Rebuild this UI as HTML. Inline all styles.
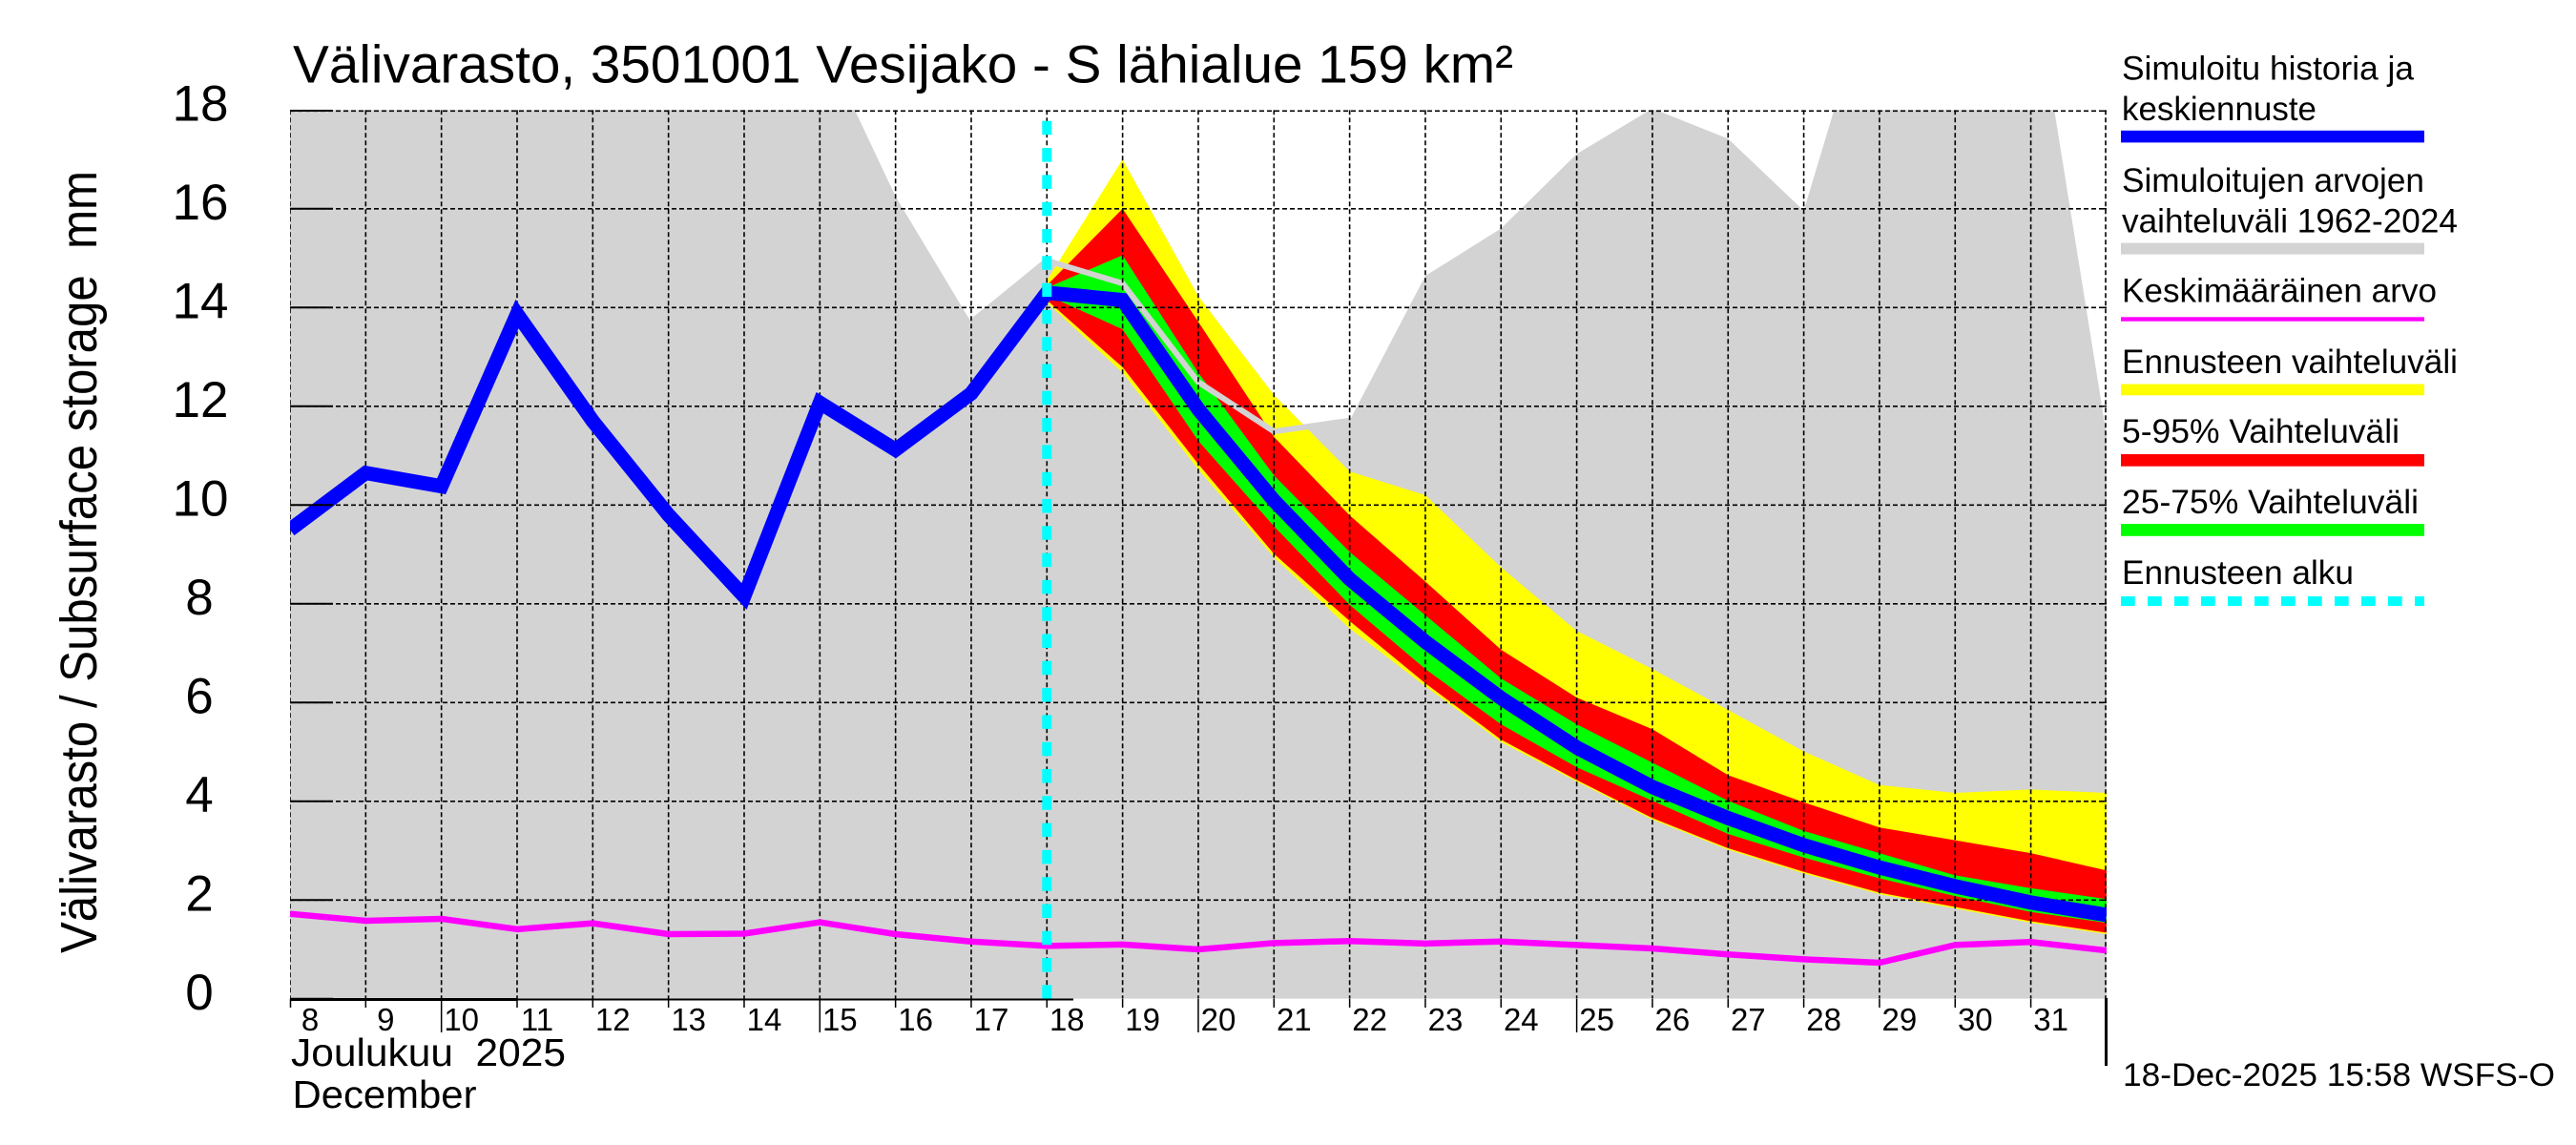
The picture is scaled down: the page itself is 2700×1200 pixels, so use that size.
<!DOCTYPE html>
<html>
<head>
<meta charset="utf-8">
<style>
html,body{margin:0;padding:0;background:#fff;}
svg{display:block;}
text{font-family:"Liberation Sans",Arial,sans-serif;fill:#000;}
</style>
</head>
<body>
<svg width="2700" height="1200" viewBox="0 0 2700 1200" xmlns="http://www.w3.org/2000/svg">
<rect x="0" y="0" width="2700" height="1200" fill="#fff"/>
<defs>
<clipPath id="pc"><rect x="304" y="115.3" width="1904" height="931.5"/></clipPath>
</defs>

<g clip-path="url(#pc)">
<g transform="matrix(79.33,0,0,-51.75,-330.64,1046.8)">
<polygon fill="#d3d3d3" points="8,0 8,20 15,19.5 16,16.25 17,13.7 18,14.95 19,14.49 20,12.49 21,11.49 22,11.71 23,14.64 24,15.6 25,17.11 26,18.03 27,17.42 28,15.96 29,21.06 30,22 31,20.96 32,11.42 32,0"/>
<polygon fill="#ffff00" points="18,14.55 19,17.0 20,14.23 21,12.23 22,10.68 23,10.2 24,8.74 25,7.45 26,6.68 27,5.85 28,5.01 29,4.33 30,4.17 31,4.24 32,4.17 32,1.31 31,1.54 30,1.83 29,2.12 28,2.54 27,3.02 26,3.63 25,4.4 24,5.2 23,6.33 22,7.5 21,8.94 20,10.72 19,12.68 18,14.1"/>
<polygon fill="#ff0000" points="18,14.45 19,16.0 20,13.71 21,11.38 22,9.79 23,8.45 24,7.07 25,6.1 26,5.46 27,4.53 28,3.98 29,3.47 30,3.21 31,2.95 32,2.6 32,1.34 31,1.57 30,1.86 29,2.15 28,2.57 27,3.05 26,3.66 25,4.43 24,5.25 23,6.39 22,7.65 21,9.01 20,10.83 19,12.79 18,14.15"/>
<polygon fill="#00ff00" points="18,14.4 19,15.06 20,12.68 21,10.6 22,9.05 23,7.77 24,6.49 25,5.56 26,4.78 27,4.01 28,3.4 29,2.95 30,2.5 31,2.24 32,2.02 32,1.54 31,1.76 30,2.08 29,2.44 28,2.86 27,3.34 26,4.01 25,4.69 24,5.56 23,6.68 22,7.98 21,9.57 20,11.3 19,13.56 18,14.25"/>
<polyline fill="none" stroke="#d3d3d3" stroke-width="6" vector-effect="non-scaling-stroke" points="17,13.7 18,14.95 19,14.49 20,12.49 21,11.49 22,11.71"/>
</g>

<path fill="none" stroke="#000" stroke-width="1.6" stroke-dasharray="5 3" d="M304 115.3V1046.8M383.33 115.3V1046.8M462.66 115.3V1046.8M541.99 115.3V1046.8M621.32 115.3V1046.8M700.65 115.3V1046.8M779.98 115.3V1046.8M859.31 115.3V1046.8M938.64 115.3V1046.8M1017.97 115.3V1046.8M1097.3 115.3V1046.8M1176.63 115.3V1046.8M1255.96 115.3V1046.8M1335.29 115.3V1046.8M1414.62 115.3V1046.8M1493.95 115.3V1046.8M1573.28 115.3V1046.8M1652.61 115.3V1046.8M1731.94 115.3V1046.8M1811.27 115.3V1046.8M1890.6 115.3V1046.8M1969.93 115.3V1046.8M2049.26 115.3V1046.8M2128.59 115.3V1046.8M2207 115.3V1046.8"/>
<path fill="none" stroke="#000" stroke-width="1.6" stroke-dasharray="5 3" d="M304 943.3H2208M304 839.8H2208M304 736.3H2208M304 632.8H2208M304 529.3H2208M304 425.8H2208M304 322.3H2208M304 218.8H2208M304 116.3H2208"/>

<g transform="matrix(79.33,0,0,-51.75,-330.64,1046.8)">
<polyline fill="none" stroke="#ff00ff" stroke-width="6.5" vector-effect="non-scaling-stroke" stroke-linejoin="round" points="8,1.72 9,1.58 10,1.62 11,1.41 12,1.53 13,1.31 14,1.32 15,1.55 16,1.31 17,1.16 18,1.07 19,1.1 20,1.0 21,1.13 22,1.17 23,1.12 24,1.16 25,1.09 26,1.02 27,0.9 28,0.8 29,0.73 30,1.09 31,1.15 32,0.98"/>
<polyline fill="none" stroke="#0000ff" stroke-width="15" vector-effect="non-scaling-stroke" stroke-linejoin="miter" stroke-miterlimit="10" points="8,9.5 9,10.65 10,10.38 11,13.87 12,11.7 13,9.8 14,8.15 15,12.07 16,11.12 17,12.26 18,14.3 19,14.15 20,11.94 21,10.09 22,8.5 23,7.23 24,6.09 25,5.09 26,4.29 27,3.66 28,3.11 29,2.66 30,2.28 31,1.95 32,1.7"/>
</g>

<line x1="1097.3" y1="126.8" x2="1097.3" y2="1046.8" stroke="#00ffff" stroke-width="10" stroke-dasharray="14.5 13.8"/>
</g>

<path fill="none" stroke="#000" stroke-width="2" d="M304 1046.8H349M304 943.3H349M304 839.8H349M304 736.3H349M304 632.8H349M304 529.3H349M304 425.8H349M304 322.3H349M304 218.8H349M304 116H349"/>
<path fill="none" stroke="#000" stroke-width="1.5" d="M2200 943.3H2208M2200 839.8H2208M2200 736.3H2208M2200 632.8H2208M2200 529.3H2208M2200 425.8H2208M2200 322.3H2208M2200 218.8H2208M2200 116.3H2208"/>
<line x1="304" y1="1047.5" x2="1125" y2="1047.5" stroke="#000" stroke-width="2"/>
<line x1="304" y1="1047.5" x2="542" y2="1047.5" stroke="#000" stroke-width="3"/>
<path fill="none" stroke="#000" stroke-width="1.5" d="M304.5 1047V1056M383.33 1047V1056M462.66 1047V1082M541.99 1047V1056M621.32 1047V1056M700.65 1047V1056M779.98 1047V1056M859.31 1047V1082M938.64 1047V1056M1017.97 1047V1056M1097.3 1047V1056M1176.63 1047V1056M1255.96 1047V1082M1335.29 1047V1056M1414.62 1047V1056M1493.95 1047V1056M1573.28 1047V1056M1652.61 1047V1082M1731.94 1047V1056M1811.27 1047V1056M1890.6 1047V1056M1969.93 1047V1056M2049.26 1047V1056M2128.59 1047V1056"/>
<line x1="2207.5" y1="1046" x2="2207.5" y2="1117" stroke="#000" stroke-width="3"/>

<g font-size="53" text-anchor="middle">
<text x="209" y="1057.8">0</text>
<text x="209" y="954.3">2</text>
<text x="209" y="850.8">4</text>
<text x="209" y="747.3">6</text>
<text x="209" y="643.8">8</text>
<text x="210" y="540.3">10</text>
<text x="210" y="436.8">12</text>
<text x="210" y="333.3">14</text>
<text x="210" y="229.8">16</text>
<text x="210" y="126.3">18</text>
</g>

<g font-size="33" text-anchor="middle">
<text x="325" y="1080">8</text>
<text x="404.3" y="1080">9</text>
<text x="483.7" y="1080">10</text>
<text x="563" y="1080">11</text>
<text x="642.3" y="1080">12</text>
<text x="721.7" y="1080">13</text>
<text x="801" y="1080">14</text>
<text x="880.3" y="1080">15</text>
<text x="959.6" y="1080">16</text>
<text x="1039" y="1080">17</text>
<text x="1118.3" y="1080">18</text>
<text x="1197.6" y="1080">19</text>
<text x="1277" y="1080">20</text>
<text x="1356.3" y="1080">21</text>
<text x="1435.6" y="1080">22</text>
<text x="1515" y="1080">23</text>
<text x="1594.3" y="1080">24</text>
<text x="1673.6" y="1080">25</text>
<text x="1752.9" y="1080">26</text>
<text x="1832.3" y="1080">27</text>
<text x="1911.6" y="1080">28</text>
<text x="1990.9" y="1080">29</text>
<text x="2070.3" y="1080">30</text>
<text x="2149.6" y="1080">31</text>
</g>

<text x="305" y="1117" font-size="41" textLength="288" lengthAdjust="spacingAndGlyphs" xml:space="preserve">Joulukuu  2025</text>
<text x="306.5" y="1161" font-size="41" textLength="193" lengthAdjust="spacingAndGlyphs">December</text>

<text x="307" y="86.5" font-size="56" textLength="1279" lengthAdjust="spacingAndGlyphs">Välivarasto, 3501001 Vesijako - S lähialue 159 km²</text>

<text transform="translate(101,589) rotate(-90)" x="0" y="0" font-size="54" text-anchor="middle" textLength="820" lengthAdjust="spacingAndGlyphs" xml:space="preserve">Välivarasto / Subsurface storage  mm</text>

<g font-size="35">
<text x="2224" y="83.4" textLength="306" lengthAdjust="spacingAndGlyphs">Simuloitu historia ja</text>
<text x="2224" y="126" textLength="204" lengthAdjust="spacingAndGlyphs">keskiennuste</text>
<rect x="2223" y="136.8" width="318" height="12.6" fill="#0000ff"/>
<text x="2224" y="200.8" textLength="317" lengthAdjust="spacingAndGlyphs">Simuloitujen arvojen</text>
<text x="2224" y="243.5" textLength="352" lengthAdjust="spacingAndGlyphs">vaihteluväli 1962-2024</text>
<rect x="2223" y="254.6" width="318" height="12" fill="#d3d3d3"/>
<text x="2224" y="316.7" textLength="330" lengthAdjust="spacingAndGlyphs">Keskimääräinen arvo</text>
<rect x="2223" y="332.3" width="318" height="4.4" fill="#ff00ff"/>
<text x="2224" y="391" textLength="352" lengthAdjust="spacingAndGlyphs">Ennusteen vaihteluväli</text>
<rect x="2223" y="402.5" width="318" height="11.8" fill="#ffff00"/>
<text x="2224" y="464.2" textLength="291" lengthAdjust="spacingAndGlyphs">5-95% Vaihteluväli</text>
<rect x="2223" y="476" width="318" height="12.7" fill="#ff0000"/>
<text x="2224" y="538" textLength="311" lengthAdjust="spacingAndGlyphs">25-75% Vaihteluväli</text>
<rect x="2223" y="549" width="318" height="12.8" fill="#00ff00"/>
<text x="2224" y="612" textLength="243" lengthAdjust="spacingAndGlyphs">Ennusteen alku</text>
<line x1="2223" y1="630" x2="2541" y2="630" stroke="#00ffff" stroke-width="10" stroke-dasharray="14.7 13.3"/>
</g>

<text x="2225" y="1138" font-size="34" textLength="453" lengthAdjust="spacingAndGlyphs">18-Dec-2025 15:58 WSFS-O</text>
</svg>
</body>
</html>
